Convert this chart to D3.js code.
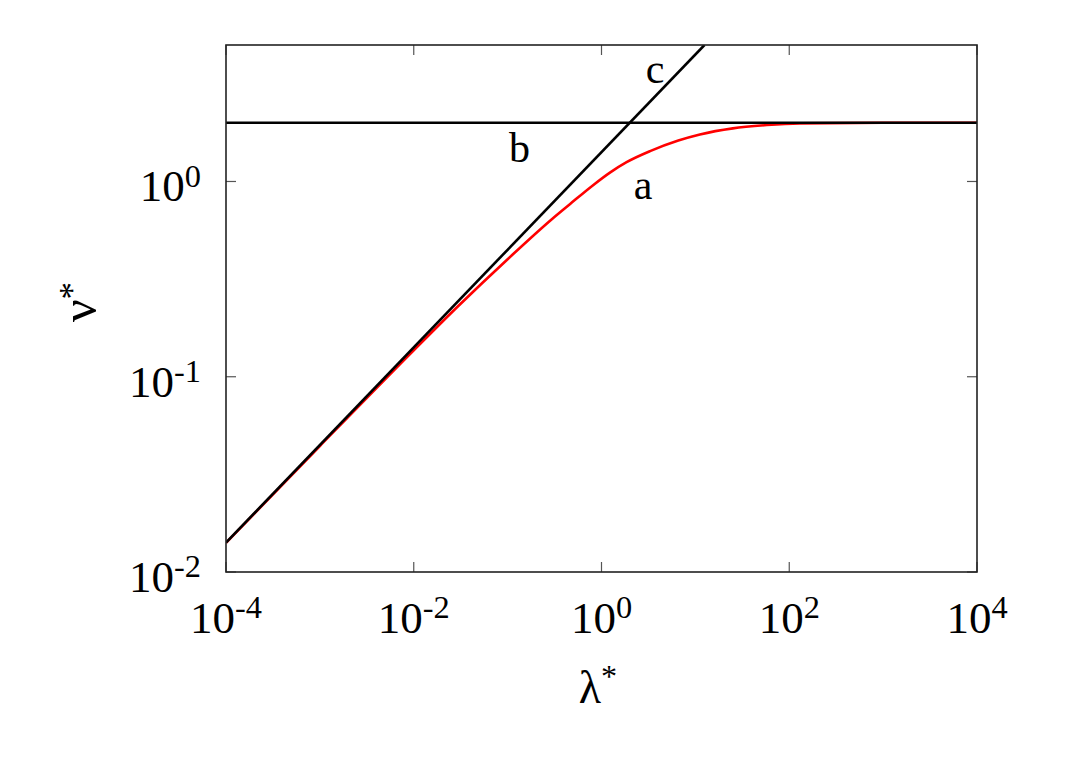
<!DOCTYPE html>
<html>
<head>
<meta charset="utf-8">
<script src="https://cdn.jsdelivr.net/npm/d3@7"></script>
<style>
  html, body { margin: 0; padding: 0; background: #fff; }
  svg { display: block; }
  text { font-family: "Liberation Serif", "Times New Roman", Times, serif; fill: #000; }
</style>
</head>
<body>
<svg id="chart" width="1090" height="763"></svg>
<script>
// ---- data ----
const lambdaA = [1e-4, 1e-3, 1e-2, 0.03, 0.1, 0.3, 0.46, 0.82, 1.23, 1.85, 3.29, 6.58, 11.17, 25.06, 57.7, 130, 1000, 1e4];
const nuA     = [0.0141, 0.0442, 0.1366, 0.231, 0.40, 0.645, 0.765, 0.96, 1.11, 1.255, 1.43, 1.62, 1.74, 1.871, 1.945, 1.984, 2.0, 2.0];
const lambdaB = [1e-4, 1e4];
const nuB     = [2, 2];
const lambdaC = [1e-4, 12.5];
const nuC     = [0.01414, 5];
const xTickExp = [-4, -2, 0, 2, 4];
const yTickExp = [-2, -1, 0];
const curveLabels = [
  { text: "a", lam: 2.77, nu: 0.814 },
  { text: "b", lam: 0.1338, nu: 1.259 },
  { text: "c", lam: 3.72, nu: 3.195 }
];

// ---- layout ----
const svg = d3.select("#chart");
const M = { left: 226, top: 45, right: 977, bottom: 572 };
const x = d3.scaleLog().domain([1e-4, 1e4]).range([M.left, M.right]);
const y = d3.scaleLog().domain([0.01, 5]).range([M.bottom, M.top]);

svg.append("clipPath").attr("id", "clip")
  .append("rect").attr("x", M.left).attr("y", M.top)
  .attr("width", M.right - M.left).attr("height", M.bottom - M.top);

// ticks (inside, mirrored on all sides)
const tickLen = 10;
const tickG = svg.append("g").attr("stroke", "#555").attr("stroke-width", 1.2);
xTickExp.forEach(e => {
  const xv = x(Math.pow(10, e));
  tickG.append("line").attr("x1", xv).attr("x2", xv).attr("y1", M.bottom).attr("y2", M.bottom - tickLen);
  tickG.append("line").attr("x1", xv).attr("x2", xv).attr("y1", M.top).attr("y2", M.top + tickLen);
});
yTickExp.forEach(e => {
  const yv = y(Math.pow(10, e));
  tickG.append("line").attr("x1", M.left).attr("x2", M.left + tickLen).attr("y1", yv).attr("y2", yv);
  tickG.append("line").attr("x1", M.right).attr("x2", M.right - tickLen).attr("y1", yv).attr("y2", yv);
});

// lines
const line = d3.line().x(d => x(d[0])).y(d => y(d[1]));
const lineSmooth = d3.line().x(d => x(d[0])).y(d => y(d[1])).curve(d3.curveMonotoneX);
const cg = svg.append("g").attr("clip-path", "url(#clip)").attr("fill", "none");
cg.append("path").datum(lambdaA.map((l, i) => [l, nuA[i]]))
  .attr("d", lineSmooth).attr("stroke", "#ff0000").attr("stroke-width", 2.6);
cg.append("path").datum(lambdaB.map((l, i) => [l, nuB[i]]))
  .attr("d", line).attr("stroke", "#000").attr("stroke-width", 2.6);
cg.append("path").datum(lambdaC.map((l, i) => [l, nuC[i]]))
  .attr("d", line).attr("stroke", "#000").attr("stroke-width", 2.6);

// frame
svg.append("rect").attr("x", M.left).attr("y", M.top)
  .attr("width", M.right - M.left).attr("height", M.bottom - M.top)
  .attr("fill", "none").attr("stroke", "#222").attr("stroke-width", 1.6);

// tick labels
function expLabel(g, e) {
  g.append("tspan").text("10");
  g.append("tspan").attr("dy", "-0.45em").attr("font-size", "0.72em").text(e < 0 ? "-" + (-e) : String(e));
}
xTickExp.forEach(e => {
  const t = svg.append("text").attr("x", x(Math.pow(10, e))).attr("y", 633)
    .attr("text-anchor", "middle").attr("font-size", 45);
  expLabel(t, e);
});
yTickExp.forEach(e => {
  const t = svg.append("text").attr("x", 201).attr("y", y(Math.pow(10, e)) + 20)
    .attr("text-anchor", "end").attr("font-size", 45);
  expLabel(t, e);
});

// axis titles
const xt = svg.append("text").attr("x", 598).attr("y", 703).attr("text-anchor", "middle").attr("font-size", 46);
xt.append("tspan").text("λ");
xt.append("tspan").attr("dy", "-0.5em").attr("font-size", "0.7em").text("*");
const yt = svg.append("text").attr("transform", "translate(96,302) rotate(-90)")
  .attr("text-anchor", "middle").attr("font-size", 50);
yt.append("tspan").text("ν");
yt.append("tspan").attr("dy", "-0.35em").attr("font-size", "0.7em").text("*");

// curve labels
curveLabels.forEach(c => {
  svg.append("text").attr("x", x(c.lam)).attr("y", y(c.nu))
    .attr("text-anchor", "middle").attr("font-size", 42).text(c.text);
});
</script>
</body>
</html>
